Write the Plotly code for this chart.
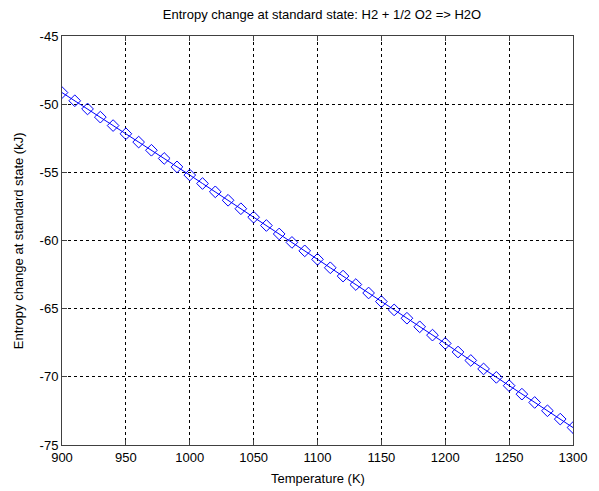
import plotly.graph_objects as go

temperature = [900, 910, 920, 930, 940, 950, 960, 970, 980, 990,
               1000, 1010, 1020, 1030, 1040, 1050, 1060, 1070, 1080, 1090,
               1100, 1110, 1120, 1130, 1140, 1150, 1160, 1170, 1180, 1190,
               1200, 1210, 1220, 1230, 1240, 1250, 1260, 1270, 1280, 1290, 1300]
entropy_change = [-49.15, -49.75, -50.35, -50.95, -51.57, -52.17, -52.78, -53.38, -53.98, -54.60,
                  -55.20, -55.82, -56.43, -57.05, -57.67, -58.29, -58.90, -59.52, -60.14, -60.76,
                  -61.38, -62.00, -62.61, -63.23, -63.85, -64.48, -65.09, -65.70, -66.33, -66.94,
                  -67.55, -68.18, -68.80, -69.42, -70.04, -70.65, -71.27, -71.88, -72.49, -73.10,
                  -73.72]
x_ticks = [900, 950, 1000, 1050, 1100, 1150, 1200, 1250, 1300]
x_tick_labels = ["900", "950", "1000", "1050", "1100", "1150", "1200", "1250", "1300"]
y_ticks = [-75, -70, -65, -60, -55, -50, -45]
y_tick_labels = ["-75", "-70", "-65", "-60", "-55", "-50", "-45"]

FONT = "Liberation Sans, Arial, sans-serif"
W, H = 599, 491
L, R, T, B = 62, 17, 36, 46

fig = go.Figure(go.Scatter(
    x=temperature, y=entropy_change, mode="lines+markers",
    line=dict(color="#0000ff", width=1),
    marker=dict(symbol="diamond-open", size=9, color="#0000ff", line=dict(width=1)),
))

axis_common = dict(
    showline=True, linecolor="#404040", linewidth=1, mirror="ticks",
    ticks="inside", ticklen=5, tickcolor="#404040",
    showgrid=True, gridcolor="black", gridwidth=1, griddash="3px,3px",
    zeroline=False,
    tickfont=dict(family=FONT, size=13, color="black"),
)

fig.update_layout(
    width=W, height=H,
    margin=dict(l=L, r=R, t=T, b=B),
    paper_bgcolor="white", plot_bgcolor="white",
    showlegend=False,
    title=dict(text="Entropy change at standard state: H2 + 1/2 O2 => H2O",
               font=dict(family=FONT, size=13, color="black"),
               x=(L + W - R) / 2 / W, xanchor="center",
               y=1 - 14 / H, yanchor="middle", yref="container"),
    xaxis=dict(axis_common, range=[900, 1300], tickvals=x_ticks, ticktext=x_tick_labels),
    yaxis=dict(axis_common, range=[-75, -45], tickvals=y_ticks, ticktext=y_tick_labels),
    annotations=[
        dict(text="Temperature (K)", xref="paper", yref="paper", x=0.5,
             y=-(478 - (H - B)) / (H - T - B), xanchor="center", yanchor="middle",
             showarrow=False, font=dict(family=FONT, size=13, color="black")),
        dict(text="Entropy change at standard state (kJ)", xref="paper", yref="paper",
             x=-(L - 18) / (W - L - R), y=0.5, xanchor="center", yanchor="middle",
             textangle=-90, showarrow=False, font=dict(family=FONT, size=13, color="black")),
    ],
)

fig.write_html("out.html")
